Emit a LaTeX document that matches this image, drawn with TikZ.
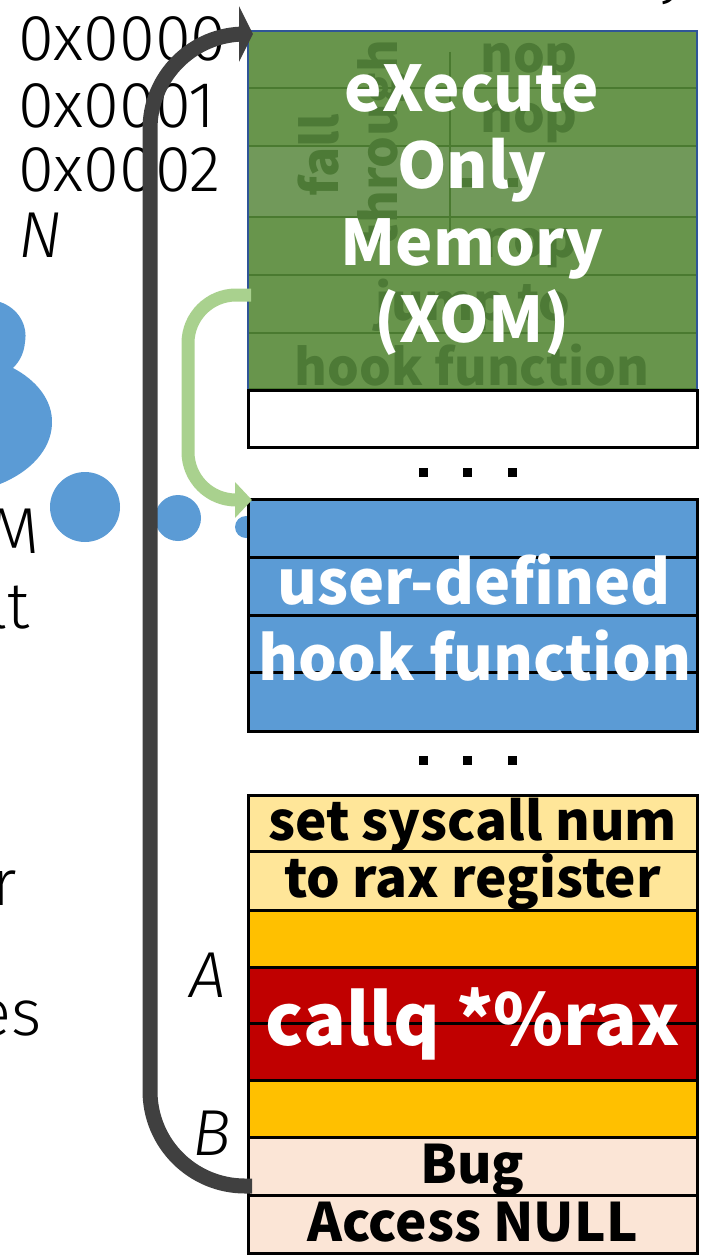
\documentclass[tikz,border=0pt]{standalone}
\usepackage{fontspec}
\usetikzlibrary{arrows.meta}
\newfontfamily\lightfont{Fira Sans Light}[ItalicFont={Fira Sans Light Italic}]
\newfontfamily\heavyfont{Noto Sans CJK JP}
\definecolor{xomfill}{HTML}{68954C}
\definecolor{xomfillb}{HTML}{71995A}
\definecolor{xomline}{HTML}{4A7A30}
\definecolor{xomtext}{HTML}{4D7A36}
\definecolor{xomedge}{HTML}{2F5597}
\definecolor{hookblue}{HTML}{5B9BD5}
\definecolor{ylight}{HTML}{FFE699}
\definecolor{ygold}{HTML}{FFC000}
\definecolor{cred}{HTML}{C00000}
\definecolor{peach}{HTML}{FBE5D6}
\definecolor{arrowgray}{HTML}{404040}
\definecolor{lightgreen}{HTML}{A9D18E}
\tikzset{
  cell/.style={rectangle, minimum width=449, inner sep=0, outer sep=0,
    draw=black, line width=3, text height=40, text depth=6,
    font=\heavyfont\bfseries\fontsize{53}{53}\selectfont},
  xrow/.style={cell, draw=xomline, line width=2.5, fill=xomfill},
  faded/.style={inner sep=0, text=xomtext, font=\heavyfont\bfseries\fontsize{50}{50}\selectfont},
  lighttext/.style={inner sep=0, font=\lightfont\fontsize{65}{65}\selectfont},
  whitelabel/.style={inner sep=0, text=white, font=\heavyfont\bfseries\fontsize{61}{61}\selectfont},
  dotmark/.style={fill=black, minimum size=9, inner sep=0, rectangle},
  blob/.style={fill=hookblue},
  darkarrow/.style={draw=arrowgray, line width=15, -{Triangle[length=14pt,width=55pt]}},
  lgarrow/.style={draw=lightgreen, line width=13, -{Triangle[length=17pt,width=35pt]}},
}
\begin{document}
\begin{tikzpicture}[x=1pt,y=-1pt]
\useasboundingbox (0,0) rectangle (705,1255);
\clip (0,0) rectangle (705,1255);

% address labels
\node[lighttext, anchor=base west] (a0) at (18,60) {0x0000};
\node[lighttext, anchor=base west] (a1) at (18,127) {0x0001};
\node[lighttext, anchor=base west] (a2) at (18,191) {0x0002};
\node[lighttext, anchor=base west] (an) at (18,257) {\itshape N};
\node[lighttext, anchor=base] (ytail) at (675,-8) {y};

% text running off the left edge
\node[lighttext, anchor=base east] (tm) at (40,553) {M};
\node[lighttext, anchor=base east] (tlt) at (30,628) {lt};
\node[lighttext, anchor=base east] (tr) at (17,905) {r};
\node[lighttext, anchor=base east] (tes) at (42,1035) {es};

% thought bubble
\fill[blob] (-5,302) -- (0,302) .. controls (18,308) and (28,325) .. (25,342)
  .. controls (24,354) and (19,362) .. (13,368)
  .. controls (36,380) and (53,400) .. (52,424)
  .. controls (51,450) and (30,472) .. (0,484) -- (-5,484) -- cycle;
\fill[blob] (85,507) circle[radius=35];
\fill[blob] (178,518) circle[radius=23];
\fill[blob] (246,527) circle[radius=11];

% execute-only memory block
\node[xrow, minimum height=57] (x1) at (472.5,59.5) {};
\node[xrow, minimum height=58] (x2) at (472.5,117) {};
\node[xrow, minimum height=71, fill=xomfillb] (x3) at (472.5,181.5) {};
\node[xrow, minimum height=58] (x4) at (472.5,246) {};
\node[xrow, minimum height=58] (x5) at (472.5,304) {};
\node[xrow, minimum height=56] (x6) at (472.5,361) {};
\draw[xomline, line width=2.5] (450,52) -- (450,233);
\node[faded, anchor=base] (nop1) at (529,73) {nop};
\node[faded, anchor=base] (nop2) at (529,132) {nop};
\node[faded, anchor=base] (nop3) at (529,257) {nop};
\node[faded, anchor=base] (jmp) at (473,320) {jump to};
\node[faded, anchor=base] (hkf) at (472,385) {hook function};
\node[faded, rotate=90, anchor=base] (fall) at (338,155) {fall};
\node[faded, rotate=90, anchor=base] (thru) at (397,143) {through};
\foreach \dx in {422,467,513} \fill[xomtext] (\dx-5,178) rectangle (\dx+5,187);
\node[rectangle, draw=xomedge, line width=2, minimum width=449, minimum height=359, inner sep=0] (xom) at (472.5,210.5) {};
\node[inner sep=0, align=center, text=white, font=\heavyfont\bfseries\fontsize{63}{77}\selectfont] (xomlabel) at (472,210)
  {eXecute\\Only\\Memory\\(XOM)};

% free slot
\node[cell, fill=white, minimum height=57] (slot) at (472.5,418.5) {};
\node[dotmark] (d1) at (423,472) {};
\node[dotmark] (d2) at (467,472) {};
\node[dotmark] (d3) at (512,472) {};

% hook function block
\node[cell, fill=hookblue, minimum height=58] (h1) at (472.5,528) {};
\node[cell, fill=hookblue, minimum height=58] (h2) at (472.5,586) {};
\node[cell, fill=hookblue, minimum height=57] (h3) at (472.5,643.5) {};
\node[cell, fill=hookblue, minimum height=59] (h4) at (472.5,701.5) {};
\node[whitelabel, anchor=base] (hk1) at (474,604) {user-defined};
\node[whitelabel, anchor=base] (hk2) at (475,680) {hook function};
\node[dotmark] (d4) at (423,760) {};
\node[dotmark] (d5) at (467,760) {};
\node[dotmark] (d6) at (512,760) {};

% syscall gadget
\node[cell, fill=ylight, minimum height=56] (s1) at (472.5,823) {set syscall num};
\node[cell, fill=ylight, minimum height=59] (s2) at (472.5,880.5) {to rax register};
\node[cell, fill=ygold, minimum height=57] (s3) at (472.5,938.5) {};
\node[cell, fill=cred, minimum height=56] (s4) at (472.5,995) {};
\node[cell, fill=cred, minimum height=57] (s5) at (472.5,1051.5) {};
\node[cell, fill=ygold, minimum height=57] (s6) at (472.5,1108.5) {};
\node[cell, fill=peach, minimum height=58] (bug) at (472.5,1166) {Bug};
\node[cell, fill=peach, minimum height=58] (null) at (472.5,1224) {Access NULL};
\node[whitelabel, font=\heavyfont\bfseries\fontsize{71}{71}\selectfont, anchor=base] (callq) at (473,1045) {callq *\%rax};
\node[lighttext, anchor=base east] (la) at (226,997) {\itshape A};
\node[lighttext, anchor=base east] (lb) at (231,1155) {\itshape B};

% control-flow arrows
\coordinate (gfrom) at (252,1186);
\coordinate (gto) at (253,34);
\draw[darkarrow, rounded corners=95] (gfrom) -- (150,1186) -- (150,34) -- (gto);
\coordinate (lgfrom) at (251,295);
\coordinate (lgto) at (252,500);
\draw[lgarrow, rounded corners=48] (lgfrom) -- (188,295) -- (188,500) -- (lgto);
\end{tikzpicture}
\end{document}
